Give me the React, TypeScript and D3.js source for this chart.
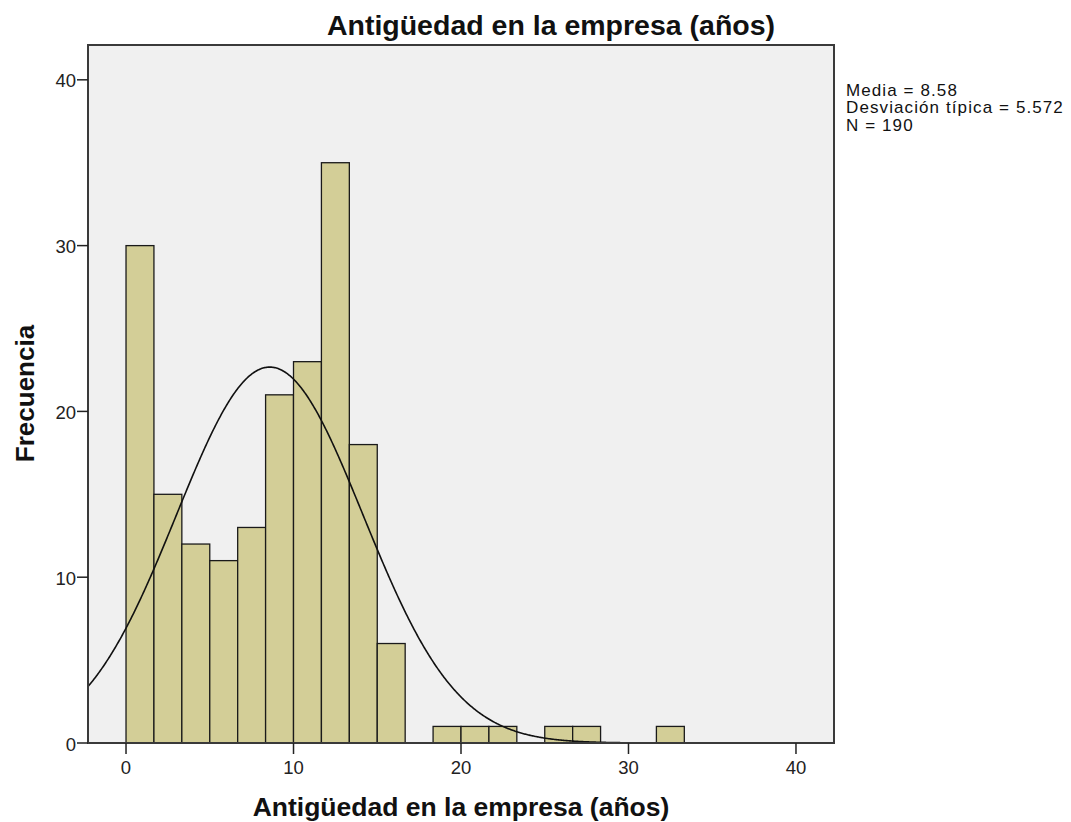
import React from "react";
import * as d3 from "d3";

// Histogram of years at the company (bin width 5/3 years)
const binStarts = [0, 5 / 3, 10 / 3, 5, 20 / 3, 25 / 3, 10, 35 / 3, 40 / 3, 15, 50 / 3, 55 / 3, 20, 65 / 3, 70 / 3, 25, 80 / 3, 85 / 3, 30, 95 / 3];
const counts = [30, 15, 12, 11, 13, 21, 23, 35, 18, 6, 0, 1, 1, 1, 0, 1, 1, 0, 0, 1];
const binWidth = 5 / 3;
const xTicks = [0, 10, 20, 30, 40];
const yTicks = [0, 10, 20, 30, 40];
const mean = 8.58;
const sd = 5.572;
const n = 190;
const statsLines = ["Media = 8.58", "Desviación típica = 5.572", "N = 190"];
const title = "Antigüedad en la empresa (años)";
const xLabel = "Antigüedad en la empresa (años)";
const yLabel = "Frecuencia";

const W = 1071;
const H = 822;
const left = 88;
const right = 834;
const top = 45;
const bottom = 743;
const font = "'Liberation Sans', Arial, sans-serif";

export default function App() {
  const x = d3.scaleLinear().domain([-2.27, 42.27]).range([left, right]);
  const y = d3.scaleLinear().domain([0, 42.1]).range([bottom, top]);

  const bins = binStarts
    .map((s, i) => ({ s, c: counts[i] }))
    .filter((b) => b.c > 0);

  // fitted normal curve scaled to counts per bin
  const pdf = (v: number) =>
    (n * binWidth * Math.exp(-0.5 * ((v - mean) / sd) ** 2)) / (sd * Math.sqrt(2 * Math.PI));
  const xs = d3.range(-2.27, 42.27, 0.05);
  const line = d3
    .line<number>()
    .x((v) => x(v))
    .y((v) => y(pdf(v)));

  return (
    <svg
      width={W}
      height={H}
      style={{ position: "absolute", left: 0, top: 0, background: "#fff" }}
      fontFamily={font}
    >
      <defs>
        <clipPath id="plotClip">
          <rect x={left} y={top} width={right - left} height={bottom - top} />
        </clipPath>
      </defs>
      <text x={551} y={35} textAnchor="middle" fontSize={28.5} fontWeight="bold" fill="#111">
        {title}
      </text>
      <rect x={left} y={top} width={right - left} height={bottom - top} fill="#f0f0f0" />
      <g>
        {bins.map((b, i) => (
          <rect
            key={i}
            x={x(b.s)}
            y={y(b.c)}
            width={x(b.s + binWidth) - x(b.s)}
            height={bottom - y(b.c)}
            fill="#d3ce97"
            stroke="#1a1a1a"
            strokeWidth={1.3}
          />
        ))}
      </g>
      <path d={line(xs) || ""} fill="none" stroke="#111" strokeWidth={1.6} clipPath="url(#plotClip)" />
      <rect
        x={left}
        y={top}
        width={right - left}
        height={bottom - top}
        fill="none"
        stroke="#3a3a3a"
        strokeWidth={2}
      />
      {yTicks.map((t) => (
        <g key={t}>
          <line x1={left - 11} x2={left} y1={y(t)} y2={y(t)} stroke="#222" strokeWidth={1.5} />
          <text x={left - 12} y={y(t) + 7.5} textAnchor="end" fontSize={18.5} fill="#222">
            {t}
          </text>
        </g>
      ))}
      {xTicks.map((t) => (
        <g key={t}>
          <line x1={x(t)} x2={x(t)} y1={bottom} y2={bottom + 11} stroke="#222" strokeWidth={1.5} />
          <text x={x(t)} y={774} textAnchor="middle" fontSize={18.5} fill="#222">
            {t}
          </text>
        </g>
      ))}
      <text x={461} y={816} textAnchor="middle" fontSize={26.5} fontWeight="bold" fill="#111">
        {xLabel}
      </text>
      <text
        transform={`translate(34,393.5) rotate(-90)`}
        textAnchor="middle"
        fontSize={26}
        fontWeight="bold"
        fill="#111"
      >
        {yLabel}
      </text>
      {statsLines.map((s, i) => (
        <text key={i} x={846} y={95.5 + i * 17.7} fontSize={17} letterSpacing={1.1} fill="#111">
          {s}
        </text>
      ))}
    </svg>
  );
}
